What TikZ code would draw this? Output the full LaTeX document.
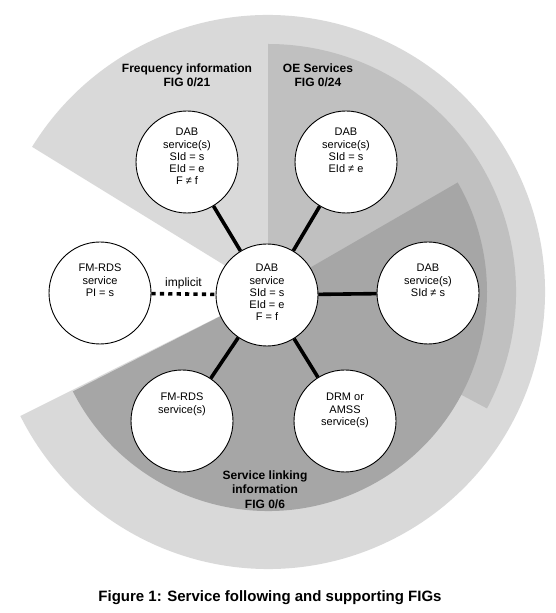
\documentclass[tikz,border=0pt]{standalone}
\usepackage{fontspec}
\setmainfont{Liberation Sans}
\definecolor{lgray}{RGB}{217,217,217}
\definecolor{mgray}{RGB}{192,192,192}
\definecolor{dgray}{RGB}{166,166,166}
\begin{document}
\begin{tikzpicture}[x=1pt,y=1pt,
  svc/.style={circle, draw=black, line width=0.9pt, fill=white, minimum size=102pt, inner sep=0pt},
  svctext/.style={anchor=north, align=center, inner sep=0pt, font=\fontsize{11}{12.3}\selectfont},
  regiontitle/.style={anchor=north, align=center, inner sep=0pt, font=\fontsize{12}{14.3}\selectfont\bfseries},
  link/.style={line width=3.6pt},
  implied/.style={line width=3.6pt, dash pattern=on 4.2pt off 4.2pt}]
\useasboundingbox (0,0) rectangle (556,613);
\coordinate (S) at (268,321);
% sectors
\fill[lgray] (S) -- ++(206.6:277) arc[start angle=206.6, end angle=508.4, radius=277] -- cycle;
\fill[mgray] (S) -- ++(-28:248) arc[start angle=-28, end angle=90, radius=248] -- cycle;
\fill[dgray] (S) -- ++(-153:219) arc[start angle=-153, end angle=30, radius=219] -- cycle;
% region titles
\node[regiontitle] (tfreq) at (187,549.5) {Frequency information\\FIG 0/21};
\node[regiontitle] (toe) at (318,549.5) {OE Services\\FIG 0/24};
\node[regiontitle] (tlink) at (265,142.3) {Service linking\\information\\FIG 0/6};
% circles
\node[svc] (c)  at (267,318) {};
\node[svc] (tl) at (187,451) {};
\node[svc] (tr) at (346,451) {};
\node[svc] (r)  at (428,320) {};
\node[svc] (l)  at (100,320) {};
\node[svc] (bl) at (182,192) {};
\node[svc] (br) at (345,192) {};
% circle texts
\node[svctext] (xc)  at (267,349) {DAB\\service\\SId = s\\EId = e\\F = f};
\node[svctext] (xtl) at (187,485) {DAB\\service(s)\\SId = s\\EId = e\\F ≠ f};
\node[svctext] (xtr) at (346,485) {DAB\\service(s)\\SId = s\\EId ≠ e};
\node[svctext] (xr)  at (428,349) {DAB\\service(s)\\SId ≠ s};
\node[svctext] (xl)  at (100,349) {FM-RDS\\service\\PI = s};
\node[svctext] (xbl) at (182,220) {FM-RDS\\service(s)};
\node[svctext] (xbr) at (345,220) {DRM or\\AMSS\\service(s)};
% connectors
\draw[link] (c) -- (tl);
\draw[link] (c) -- (tr);
\draw[link] (c) -- (r);
\draw[link] (c) -- (bl);
\draw[link] (c) -- (br);
\draw[implied] (l) -- node[anchor=base, yshift=7pt, inner sep=0pt, font=\fontsize{12}{14}\selectfont] (impl) {implicit} (c);
% caption
\node[anchor=base, inner sep=0pt, font=\fontsize{15}{18}\selectfont\bfseries] (cap) at (270,11) {Figure 1: Service following and supporting FIGs};
\end{tikzpicture}
\end{document}
